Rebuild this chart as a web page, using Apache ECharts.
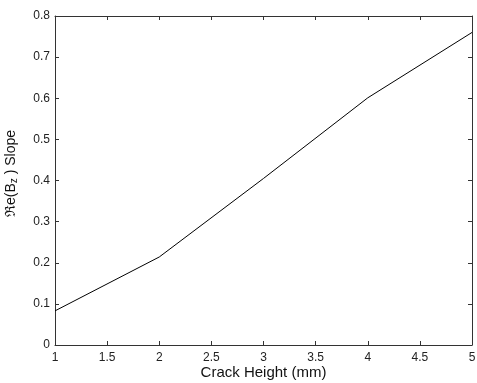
<!DOCTYPE html>
<html>
<head>
<meta charset="utf-8">
<script src="https://cdn.jsdelivr.net/npm/echarts@6/dist/echarts.min.js"></script>
<style>html,body{margin:0;padding:0;background:#fff}#c{width:477px;height:383px}</style>
</head>
<body>
<div id="c"></div>
<script>
var crackHeight = [1, 2, 3, 4, 5];
var slope = [0.083, 0.214, 0.405, 0.601, 0.760];
var xTicks = [1, 1.5, 2, 2.5, 3, 3.5, 4, 4.5, 5];
var yTicks = [0, 0.1, 0.2, 0.3, 0.4, 0.5, 0.6, 0.7, 0.8];

var chart = echarts.init(document.getElementById('c'));
var font = 'Liberation Sans, Arial, sans-serif';
var axisLine = {show: true, onZero: false, lineStyle: {color: '#333', width: 1}};
var tick = {show: true, inside: true, length: 4, lineStyle: {color: '#333', width: 1}};
chart.setOption({
  animation: false,
  grid: {left: 55, right: 5, top: 16, bottom: 38, containLabel: false, outerBoundsMode: 'none'},
  xAxis: [{
    type: 'value', min: 1, max: 5, interval: 0.5,
    name: 'Crack Height (mm)', nameLocation: 'middle', nameGap: 20, nameMoveOverlap: false,
    nameTextStyle: {fontFamily: font, fontSize: 15, color: '#111', verticalAlign: 'top'},
    axisLine: axisLine, axisTick: tick, splitLine: {show: false},
    axisLabel: {fontFamily: font, fontSize: 12, color: '#222', margin: 7,
      formatter: function (v) { return String(v); }}
  }, {
    type: 'value', min: 1, max: 5, interval: 0.5, position: 'top',
    axisLine: axisLine, axisTick: tick, splitLine: {show: false}, axisLabel: {show: false}
  }],
  yAxis: [{
    type: 'value', min: 0, max: 0.8, interval: 0.1,
    name: '{n|ℜe(B}{s|z}{n| ) Slope}', nameLocation: 'middle', nameGap: 36, nameMoveOverlap: false,
    nameTextStyle: {fontFamily: font, fontSize: 14, color: '#111', padding: [0, 0, 0, 14],
      rich: {n: {fontFamily: font, fontSize: 14, color: '#111'},
             s: {fontFamily: font, fontSize: 10, color: '#111', verticalAlign: 'bottom', padding: [6, 0, 0, 0]}}},
    axisLine: axisLine, axisTick: tick, splitLine: {show: false},
    axisLabel: {fontFamily: font, fontSize: 12, color: '#222', margin: 5,
      formatter: function (v) { return String(Math.round(v * 10) / 10); }}
  }, {
    type: 'value', min: 0, max: 0.8, interval: 0.1, position: 'right',
    axisLine: axisLine, axisTick: tick, splitLine: {show: false}, axisLabel: {show: false}
  }],
  series: [{
    type: 'line',
    data: crackHeight.map(function (x, i) { return [x, slope[i]]; }),
    showSymbol: false, symbol: 'none',
    lineStyle: {color: '#000', width: 1}
  }]
});
</script>
</body>
</html>
